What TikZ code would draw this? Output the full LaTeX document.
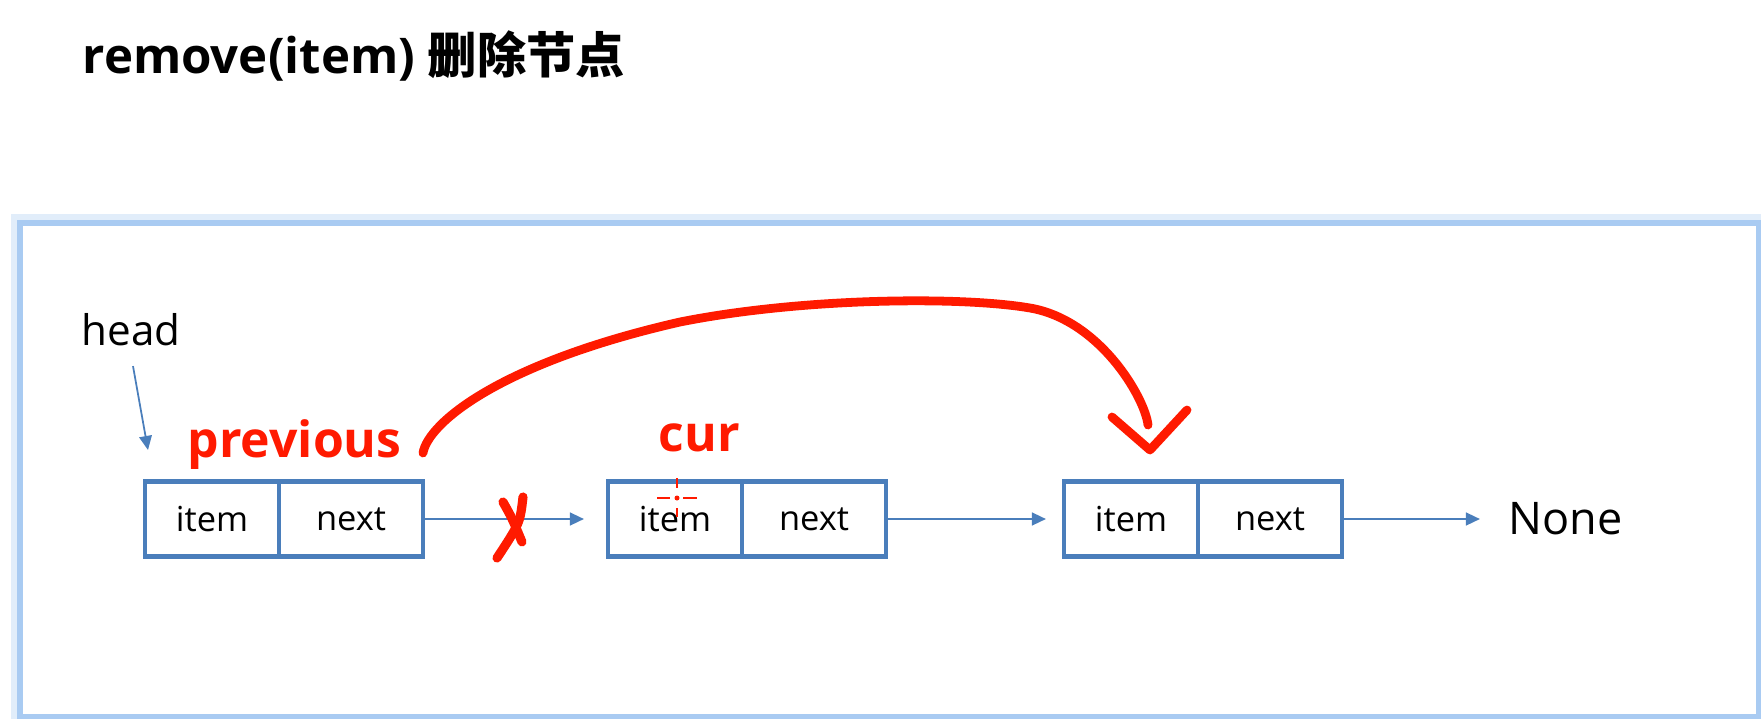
\documentclass[tikz,border=0pt]{standalone}
\usepackage{fontspec}
\setmainfont{Open Sans}
\newfontfamily\cjk{Noto Sans CJK SC}
\usetikzlibrary{arrows.meta,calc,positioning}
\definecolor{Frame}{HTML}{A9CBF2}
\definecolor{Cell}{HTML}{4A7EBB}
\definecolor{Pen}{HTML}{FF1A00}

\begin{document}
\begin{tikzpicture}[
    cell/.style={draw=Cell,line width=1.2pt,minimum height=0.75cm,inner sep=0pt,outer sep=0pt,font=\fontsize{9.8}{12}\selectfont},
    itemcell/.style={cell,minimum width=1.34cm},
    nextcell/.style={cell,minimum width=1.44cm},
    link/.style={draw=Cell,line width=0.7pt,-{Triangle[length=4pt,width=3.6pt]}},
    pen/.style={draw=Pen,line width=2.5pt,line cap=round,line join=round},
    redlabel/.style={text=Pen,font=\fontsize{14.2}{16}\selectfont\bfseries,inner sep=0pt,anchor=base west}]
  \useasboundingbox (0,0) rectangle (17.61,7.18);
  \draw[Frame!35,line width=5pt] (0.20,0.01) rectangle (17.59,4.95);
  \draw[Frame,line width=1.5pt,fill=white] (0.20,0.01) rectangle (17.59,4.95);

  \node[anchor=base west,inner sep=0pt,font=\fontsize{14}{17}\selectfont\bfseries] (title) at (0.82,6.45) {remove(item) {\cjk 删除节点}};

  \node[itemcell] (item1) at (2.12,1.99) {item};
  \node[nextcell,right=0pt of item1] (next1) {next};
  \node[itemcell,right=1.85cm of next1] (item2) {item};
  \node[nextcell,right=0pt of item2] (next2) {next};
  \node[itemcell,right=1.78cm of next2] (item3) {item};
  \node[nextcell,right=0pt of item3] (next3) {next};
  \node[anchor=west,inner sep=0pt,font=\fontsize{12.8}{15}\selectfont,right=1.66cm of next3] (none) {None};

  \node[anchor=base,inner sep=0pt,font=\fontsize{12}{14}\selectfont] (head) at (1.31,3.73) {head};
  \node[redlabel] (previous) at ($(item1.north west)+(0.42,0.24)$) {previous};
  \node[redlabel] (cur) at ($(item2.north west)+(0.50,0.30)$) {cur};

  \coordinate (headtip) at (1.48,2.68);
  \draw[link,line width=0.5pt] ([xshift=0.02cm,yshift=-0.2cm]head.south) -- (headtip);
  \draw[link,shorten >=0.24cm] (next1) -- (item2);
  \draw[link,shorten >=0.18cm] (next2) -- (item3);
  \draw[link,shorten >=0.28cm] (next3) -- (none);

  \draw[pen] (4.23,2.65) .. controls (4.28,2.95) and (5.00,3.55) .. (6.80,3.96)
    .. controls (8.00,4.20) and (9.60,4.22) .. (10.30,4.10)
    .. controls (11.00,3.98) and (11.45,3.20) .. (11.48,2.93);
  \draw[pen] (11.12,3.01) -- (11.50,2.68) -- (11.87,3.08);
  \draw[pen,line width=2.6pt] (5.03,2.16) .. controls (5.12,2.00) .. (5.22,1.76);
  \draw[pen,line width=2.6pt] (5.23,2.21) .. controls (5.20,1.95) .. (4.97,1.60);

  \fill[Pen] (6.77,2.20) circle (0.025);
  \draw[Pen,line width=0.5pt] (6.77,2.40) -- (6.77,2.30) (6.77,2.10) -- (6.77,2.01) (6.57,2.20) -- (6.70,2.20) (6.83,2.20) -- (6.97,2.20);
\end{tikzpicture}
\end{document}
